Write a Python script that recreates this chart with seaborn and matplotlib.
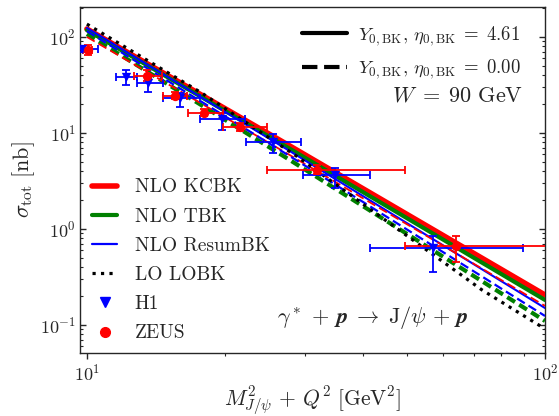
import numpy as np
import pandas as pd
import matplotlib
matplotlib.use("Agg")
import matplotlib.pyplot as plt
from matplotlib.lines import Line2D
import seaborn as sns

# ---------------- data ----------------
# theory curves (x in GeV^2, sigma in nb)
x_curve = [10.0, 27.7, 100.0]
kcbk_y0 = [121.0, 7.33, 0.205]      # solid, Y0=4.61
kcbk_00 = [100.0, 5.90, 0.158]      # dashed, Y0=0
tbk_y0 = [118.0, 6.86, 0.182]
tbk_00 = [107.0, 5.24, 0.110]
resum_y0 = [124.0, 6.49, 0.150]
resum_00 = [115.0, 5.75, 0.124]
x_lo = [10.0, 17.8, 28.9, 72.8, 100.0]
lobk = [136.0, 26.1, 5.6, 0.232, 0.091]

# H1 data
h1_x = [9.75, 12.15, 13.6, 15.95, 19.7, 25.5, 34.8, 56.9]
h1_xlo = [9.6, 11.6, 12.85, 14.65, 17.65, 22.3, 29.6, 41.5]
h1_xhi = [10.6, 12.85, 14.65, 17.65, 22.1, 29.3, 41.5, 89.5]
h1_y = [75.0, 38.3, 33.2, 23.2, 14.0, 8.0, 3.65, 0.634]
h1_ylo = [69.0, 31.6, 26.7, 18.7, 10.7, 6.2, 2.67, 0.356]
h1_yhi = [81.0, 45.3, 37.4, 26.1, 16.2, 9.8, 4.31, 0.845]

# ZEUS data
ze_x = [10.05, 13.5, 15.6, 18.0, 21.6, 31.8, 64.0]
ze_xlo = [9.80, 12.7, 14.65, 16.6, 19.8, 24.7, 49.4]
ze_xhi = [10.25, 14.6, 16.5, 19.8, 24.7, 49.4, 120.0]
ze_y = [73.0, 39.3, 24.3, 16.2, 11.5, 4.1, 0.665]
ze_ylo = [65.0, 35.0, 22.3, 14.9, 10.4, 3.7, 0.45]
ze_yhi = [83.0, 45.0, 26.5, 17.7, 12.7, 4.6, 0.85]

legend_labels = ["NLO KCBK", "NLO TBK", "NLO ResumBK", "LO LOBK", "H1", "ZEUS"]
y0_labels = [r"$Y_{0,\mathrm{BK}},\, \eta_{0,\mathrm{BK}} \;=\; 4.61$",
             r"$Y_{0,\mathrm{BK}},\, \eta_{0,\mathrm{BK}} \;=\; 0.00$"]

# ---------------- style ----------------
sns.set_style("ticks")
plt.rcParams["font.family"] = ["cmr10", "DejaVu Sans"]
plt.rcParams["mathtext.fontset"] = "cm"
plt.rcParams["axes.formatter.use_mathtext"] = True
plt.rcParams["axes.unicode_minus"] = False

fig = plt.figure(figsize=(5.59, 4.16), dpi=100)
ax = fig.add_axes([80 / 559, 1 - 353 / 416, 465 / 559, 346 / 416])

RED, GREEN, BLUE = "#ff0000", "#008000", "#0000ff"

def curve(x, y, color, lw, ls, z):
    df = pd.DataFrame({"x": x, "y": y})
    sns.lineplot(data=df, x="x", y="y", ax=ax, color=color, linewidth=lw,
                 linestyle=ls, zorder=z, legend=False, sort=False)

curve(x_curve, kcbk_y0, RED, 4.0, "-", 3)
curve(x_curve, tbk_y0, GREEN, 3.0, "-", 3.2)
curve(x_curve, resum_y0, BLUE, 1.5, "-", 3.4)
curve(x_curve, kcbk_00, RED, 1.3, (0, (5, 2.5)), 3.5)
curve(x_curve, resum_00, BLUE, 1.6, (0, (4, 2)), 3.6)
curve(x_curve, tbk_00, GREEN, 3.0, (0, (2.2, 1.2)), 3.3)
curve(x_lo, lobk, "black", 2.3, ":", 3.7)

# data points with error bars
h1_xerr = [np.array(h1_x) - np.array(h1_xlo), np.array(h1_xhi) - np.array(h1_x)]
h1_yerr = [np.array(h1_y) - np.array(h1_ylo), np.array(h1_yhi) - np.array(h1_y)]
ze_xerr = [np.array(ze_x) - np.array(ze_xlo), np.array(ze_xhi) - np.array(ze_x)]
ze_yerr = [np.array(ze_y) - np.array(ze_ylo), np.array(ze_yhi) - np.array(ze_y)]

ax.errorbar(h1_x, h1_y, xerr=h1_xerr, yerr=h1_yerr, fmt="none", ecolor=BLUE,
            elinewidth=1.3, capsize=3, capthick=1.3, zorder=5)
ax.errorbar(ze_x, ze_y, xerr=ze_xerr, yerr=ze_yerr, fmt="none", ecolor=RED,
            elinewidth=1.3, capsize=3, capthick=1.3, zorder=5)
sns.scatterplot(x=h1_x, y=h1_y, ax=ax, marker="v", color=BLUE, s=45,
                edgecolor=BLUE, linewidth=0, zorder=6)
sns.scatterplot(x=ze_x, y=ze_y, ax=ax, marker="o", color=RED, s=45,
                edgecolor=RED, linewidth=0, zorder=6)

ax.set_xscale("log")
ax.set_yscale("log")
ax.set_xlim(9.66, 100)
ax.set_ylim(0.051, 205)

ax.set_xlabel(r"$M^2_{J/\psi} \,+\, Q^2\ [\mathrm{GeV}^2]$", fontsize=15.5, labelpad=0)
ax.set_ylabel(r"$\sigma_{\mathrm{tot}}\ [\mathrm{nb}]$", fontsize=16, labelpad=2)

ax.tick_params(axis="y", which="both", direction="in", right=True, left=True)
ax.tick_params(axis="x", which="both", direction="out")
ax.tick_params(which="major", length=4, width=1, labelsize=13, pad=3)
ax.tick_params(which="minor", length=2.5, width=0.8)
for s in ax.spines.values():
    s.set_linewidth(1.0)
    s.set_visible(True)

# legends
h_main = [
    Line2D([], [], color=RED, lw=4.0),
    Line2D([], [], color=GREEN, lw=3.0),
    Line2D([], [], color=BLUE, lw=1.6),
    Line2D([], [], color="black", lw=2.3, ls=":"),
    Line2D([], [], color=BLUE, marker="v", ls="none", markersize=7),
    Line2D([], [], color=RED, marker="o", ls="none", markersize=7),
]
leg1 = ax.legend(h_main, legend_labels, loc="lower left", bbox_to_anchor=(-0.012, -0.02),
                 frameon=False, fontsize=14, handlelength=1.3, handletextpad=0.9,
                 labelspacing=0.58)
ax.add_artist(leg1)

h_y0 = [Line2D([], [], color="black", lw=3.0, ls="-"),
        Line2D([], [], color="black", lw=3.0, ls="--")]
ax.legend(h_y0, y0_labels, loc="upper right", bbox_to_anchor=(0.985, 1.0),
          frameon=False, fontsize=13.5, handlelength=2.4, handletextpad=0.6,
          labelspacing=0.55)

ax.text(0.953, 0.743, r"$W \;=\; 90\ \mathrm{GeV}$", transform=ax.transAxes,
        ha="right", va="center", fontsize=16)
ax.text(0.63, 0.104,
        r"$\gamma^* \,+\, \boldsymbol{p} \;\rightarrow\; \mathrm{J}/\psi \,+\, \boldsymbol{p}$",
        transform=ax.transAxes, ha="center", va="center", fontsize=16)

fig.savefig("out.png", dpi=100)
